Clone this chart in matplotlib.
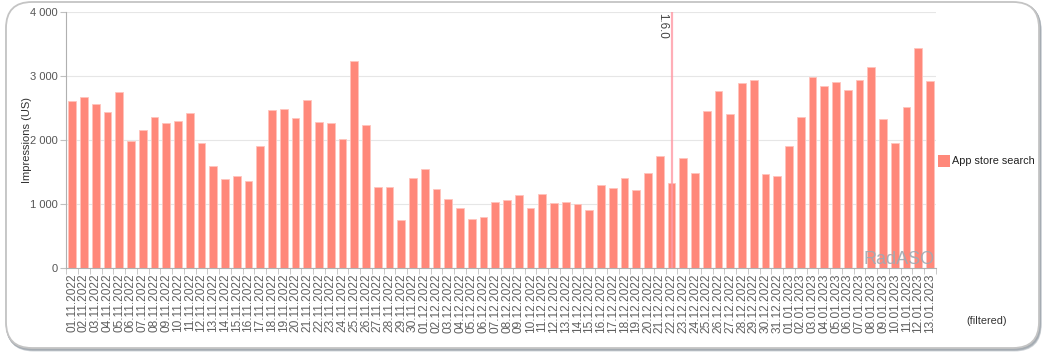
import matplotlib
matplotlib.use("Agg")
import matplotlib.pyplot as plt
from matplotlib.patches import FancyBboxPatch
import numpy as np

plt.rcParams["font.family"] = ["Liberation Sans", "DejaVu Sans"]

dates = (
    [f"{d:02d}.11.2022" for d in range(1, 31)]
    + [f"{d:02d}.12.2022" for d in range(1, 32)]
    + [f"{d:02d}.01.2023" for d in range(1, 14)]
)
impressions = [
    2605, 2667, 2569, 2444, 2756, 1984, 2162, 2355, 2261, 2303,
    2428, 1948, 1600, 1398, 1440, 1362, 1912, 2464, 2484, 2339,
    2620, 2287, 2261, 2022, 3241, 2240, 1262, 1262, 756, 1404,
    1548, 1233, 1072, 932, 767, 803, 1036, 1056, 1134, 943,
    1160, 1010, 1036, 1000, 901, 1295, 1253, 1413, 1222, 1491,
    1745, 1331, 1724, 1490, 2453, 2772, 2406, 2897, 2933, 1475,
    1438, 1906, 2355, 2980, 2844, 2902, 2777, 2938, 3136, 2323,
    1948, 2522, 3444, 2917,
]
series_name = "App store search"
release_date = "22.12.2022"
release_label = "1.6.0"
yticks = [0, 1000, 2000, 3000, 4000]
ytick_labels = ["0", "1 000", "2 000", "3 000", "4 000"]

W, H = 1049, 359
fig = plt.figure(figsize=(W / 100, H / 100), dpi=100)
fig.patch.set_facecolor("white")

# background axes in pixel coordinates for the rounded frame
bg = fig.add_axes([0, 0, 1, 1])
bg.set_xlim(0, W)
bg.set_ylim(H, 0)
bg.axis("off")
bg.set_zorder(0)
for off, col in [(4, "#d4d8dc"), (3, "#b8bec4"), (2, "#a4abb2")]:
    bg.add_patch(FancyBboxPatch((6 + off * 0.4, 2 + off * 0.6), 1033, 346,
                                boxstyle="round,pad=0,rounding_size=26",
                                facecolor="none", edgecolor=col,
                                linewidth=1.6))
bg.add_patch(FancyBboxPatch((6, 2), 1033, 346,
                            boxstyle="round,pad=0,rounding_size=26",
                            facecolor="white", edgecolor="#c4c4c4",
                            linewidth=1.3))

ax = fig.add_axes([66 / W, 1 - 268 / H, (936 - 66) / W, (268 - 12) / H])
ax.set_facecolor("none")
ax.set_zorder(2)

x = np.arange(len(dates))
ax.bar(x, impressions, width=0.66, color="#FF887A", edgecolor="#ffc4bc",
       linewidth=0.6, label=series_name, zorder=3)

ax.set_xlim(-0.53, len(dates) - 0.5)
ax.set_ylim(0, 4000)
ax.set_yticks(yticks)
ax.set_yticklabels(ytick_labels)
ax.yaxis.grid(True, color="#e6e6e6", linewidth=0.8, zorder=0)
ax.set_axisbelow(True)

ax.set_xticks(x)
ax.set_xticklabels(dates, rotation=90, fontsize=8.6, color="#606060")
ax.set_xticks(np.arange(-0.5, len(dates), 1), minor=True)
ax.tick_params(axis="x", which="major", length=0, pad=4)
ax.tick_params(axis="x", which="minor", length=4, color="#c0c0c0")
ax.tick_params(axis="y", labelsize=8.0, labelcolor="#555555", length=4,
               color="#c0c0c0", pad=2)

for s in ["top", "right"]:
    ax.spines[s].set_visible(False)
ax.spines["left"].set_color("#b0b0b0")
ax.spines["bottom"].set_color("#b0b0b0")

ax.set_ylabel("Impressions (US)", fontsize=8.0, color="#333333")
ax.yaxis.set_label_coords((32 - 66) / (936 - 66), 0.5)

# release marker
ri = dates.index(release_date)
ax.axvline(ri, color="#ff9aa5", linewidth=1.6, alpha=0.8, zorder=4)
ax.text(ri - 0.3, 3985, release_label, rotation=270, ha="right", va="top",
        fontsize=8.4, color="#444444", zorder=5)

# watermark
ax.text(0.998, 0.0, "RadASO", transform=ax.transAxes, ha="right",
        va="bottom", fontsize=13, color="#9faab2", alpha=0.9, zorder=6)

# legend
bg.add_patch(plt.Rectangle((938, 155), 12, 12, facecolor="#FF887A",
                           edgecolor="none", zorder=3))
bg.text(952, 161, series_name, fontsize=7.8, color="#222222",
        va="center", ha="left", zorder=4)

bg.text(987, 321, "(filtered)", fontsize=7.8, color="#333333",
        ha="center", va="center", zorder=4)

fig.savefig("out.png", dpi=100, facecolor="white")
